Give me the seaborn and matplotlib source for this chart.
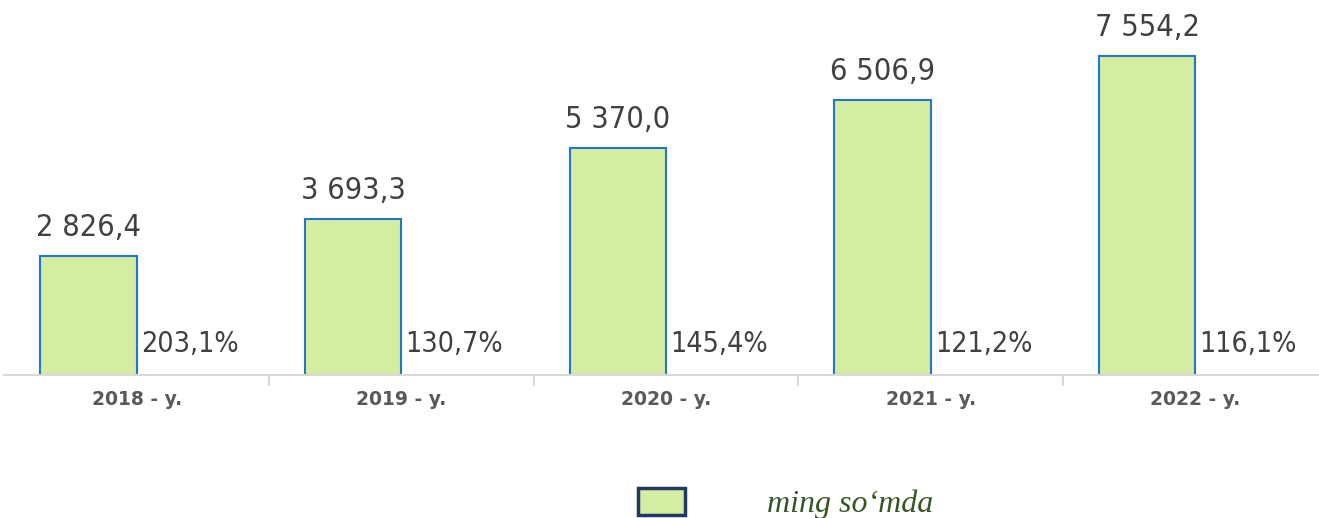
import matplotlib
matplotlib.use("Agg")
import matplotlib.pyplot as plt
import numpy as np
import pandas as pd
import seaborn as sns

# data
years = ["2018 - y.", "2019 - y.", "2020 - y.", "2021 - y.", "2022 - y."]
values = [2826.4, 3693.3, 5370.0, 6506.9, 7554.2]
growth = ["203,1%", "130,7%", "145,4%", "121,2%", "116,1%"]
series_name = "ming so\u2018mda"

fill_col = "#D5EDA2"
edge_col = "#1F78C8"
text_col = "#404040"

sns.set_theme(style="white")
plt.rcParams["font.family"] = ["DejaVu Sans"]

df = pd.DataFrame({"year": years + years,
                   "value": values + [0] * len(values),
                   "series": [series_name] * len(values) + ["pct"] * len(values)})

fig = plt.figure(figsize=(13.19, 5.18), dpi=100)
ax = fig.add_axes([0, 0.276, 1, 0.724])

sns.barplot(data=df, x="year", y="value", hue="series", dodge=True, width=0.728,
            palette={series_name: fill_col, "pct": "none"}, edgecolor=edge_col,
            saturation=1, linewidth=1.5, legend=False, ax=ax)

# hide the empty second series
for p in ax.patches[len(values):]:
    p.set_visible(False)

ax.set_ylim(0, 8880)
ax.set_xlim(-0.516, 4.467)
ax.spines["bottom"].set_bounds(-0.5, 4.467)

def fmt(v):
    s = f"{v:,.1f}".replace(",", " ").replace(".", ",")
    return s

for i, p in enumerate(ax.patches[:len(values)]):
    cx = p.get_x() + p.get_width() / 2
    ax.annotate(fmt(values[i]), (cx, p.get_height()), xytext=(0, 10),
                textcoords="offset points", ha="center", va="bottom",
                fontsize=22, color=text_col, fontstretch="condensed")
    ax.annotate(growth[i], (i + 0.2, 0), xytext=(0, 12),
                textcoords="offset points", ha="center", va="bottom",
                fontsize=20.5, color=text_col, fontstretch="condensed")

for s in ["top", "left", "right"]:
    ax.spines[s].set_visible(False)
ax.spines["bottom"].set_color("#D9D9D9")
ax.spines["bottom"].set_linewidth(1.5)
ax.set_yticks([])
ax.set_xlabel("")
ax.set_ylabel("")
ax.tick_params(axis="x", which="major", length=0, pad=11, labelsize=13.5,
               labelcolor="#595959")
for lbl in ax.get_xticklabels():
    lbl.set_fontweight("bold")
ax.set_xticks(np.arange(0.5, len(years) - 0.5), minor=True)
ax.tick_params(axis="x", which="minor", length=8, width=1.5, color="#D9D9D9",
               direction="out", bottom=True)

# legend
fig.patches.append(plt.Rectangle((638 / 1319, 3 / 518), 47 / 1319, 27 / 518,
                                 transform=fig.transFigure, facecolor=fill_col,
                                 edgecolor="#1F3864", linewidth=2.5))
fig.text(767 / 1319, 14 / 518, series_name, fontsize=23, style="italic",
         color="#375623", family=["Liberation Serif"], va="center", ha="left")

fig.savefig("out.png", dpi=100)
